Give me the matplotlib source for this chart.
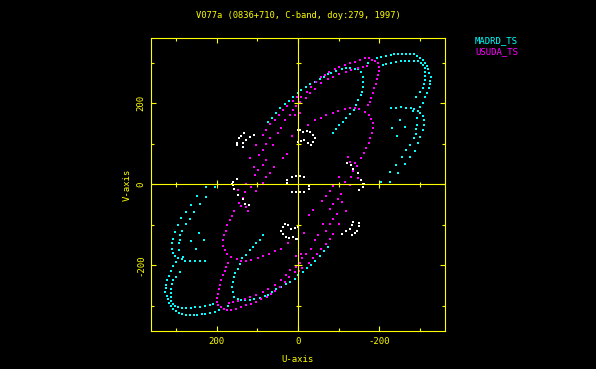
import numpy as np
import matplotlib
matplotlib.use('Agg')
import matplotlib.pyplot as plt

plt.rcParams['axes.unicode_minus'] = False
plt.rcParams['font.family'] = 'DejaVu Sans Mono'

title = 'V077a (0836+710, C-band, doy:279, 1997)'
stations = ['MADRD_TS', 'USUDA_TS']
tick_vals = [200, 0, -200]
minor_vals = [-300, -100, 100, 300]

##### u,v samples (upper half only, conjugates drawn as -u,-v)
madrd_uv = [
    # track through the centre
    (74, 155), (65, 165), (53, 177), (43, 188), (33, 198), (22, 206), (12, 216), (1, 225),
    (-8, 233), (-19, 240), (-29, 247), (-41, 253), (-53, 259), (-63, 266), (-74, 272),
    (-82, 276), (-94, 280), (-107, 284), (-119, 286), (-129, 286), (-139, 285), (-147, 284),
    (-156, 278), (-160, 266), (-161, 253), (-160, 241), (-158, 229), (-154, 220), (-147, 208),
    (-143, 196), (-137, 183), (-127, 174), (-119, 163), (-110, 154), (-102, 146), (-94, 137),
    (-86, 126),
    # outer arc
    (-172, 300), (-183, 307), (-194, 311), (-205, 315), (-217, 318), (-228, 320), (-237, 321),
    (-247, 322), (-256, 322), (-266, 322), (-276, 322), (-285, 321), (-293, 318), (-300, 313),
    (-307, 307), (-313, 300), (-316, 292), (-319, 284), (-323, 276), (-326, 266), (-325, 256),
    (-325, 248), (-321, 237), (-318, 226), (-313, 215), (-307, 202), (-300, 191),
    # second arc
    (-209, 295), (-217, 297), (-229, 300), (-241, 302), (-252, 304), (-262, 305), (-274, 305),
    (-286, 305), (-294, 304), (-303, 300), (-308, 295), (-313, 288), (-313, 278), (-313, 268),
    (-311, 258), (-309, 247), (-307, 237), (-299, 229), (-291, 216),
    # inner arcs on the right
    (-229, 188), (-241, 189), (-254, 190), (-266, 189), (-278, 188), (-286, 185), (-294, 182),
    (-301, 177), (-307, 169), (-309, 159), (-309, 146), (-307, 134), (-301, 118), (-294, 101),
    (-282, 180), (-292, 163), (-293, 146), (-291, 137), (-289, 124), (-286, 114), (-276, 98),
    (-266, 85), (-287, 82), (-255, 68), (-276, 68), (-262, 50), (-240, 49), (-247, 29),
    (-225, 30), (-225, 6), (-203, 6), (-251, 160), (-264, 141), (-231, 138), (-243, 119),
]

usuda_uv = [
    # outer arc
    (-8, 216), (-21, 229), (-33, 241), (-45, 253), (-57, 264), (-66, 270), (-76, 277),
    (-90, 284), (-102, 290), (-115, 295), (-127, 299), (-139, 303), (-153, 307), (-164, 311),
    (-174, 311), (-182, 308), (-190, 304), (-196, 299), (-199, 290), (-199, 280), (-196, 270),
    (-194, 259), (-191, 248), (-188, 237), (-184, 225), (-180, 214), (-176, 204), (-171, 195),
    # second row
    (6, 193), (-6, 203), (-19, 212), (-29, 225), (-41, 235), (-57, 249), (-74, 259), (-86, 266),
    (-102, 272), (-119, 277), (-131, 282), (-147, 287), (-159, 290), (-169, 292),
    # near the origin
    (2, 215), (11, 206), (27, 193), (11, 183), (37, 183), (47, 171), (20, 171), (57, 160),
    (31, 160), (68, 148), (41, 138), (78, 134), (49, 126), (14, 119), (86, 122), (69, 114),
    (79, 99), (102, 97), (61, 97), (87, 86), (96, 72), (117, 66), (28, 75), (38, 64), (78, 60),
    (60, 42), (109, 43), (86, 48), (69, 29), (98, 35), (79, 17), (106, 23), (87, 4), (127, 1),
    # inner arc
    (8, 171), (-4, 177), (-25, 146), (-41, 159), (-57, 165), (-70, 171), (-86, 177), (-98, 182),
    (-115, 187), (-127, 189), (-139, 189), (-151, 185), (-164, 179), (-174, 171), (-180, 161),
    (-184, 151), (-184, 138), (-182, 126), (-178, 114), (-174, 101), (-168, 89), (-162, 77),
    (-156, 65),
    (-123, 67), (-127, 56), (-139, 53), (-135, 34), (-147, 15), (-131, 19), (-115, 6),
    (-102, 17), (-144, 45),
]

ground_uv = [
    (133, 126), (141, 120), (146, 115), (150, 103), (149, 96), (136, 93), (134, 101),
    (128, 109), (119, 116), (108, 122),
    (151, 13), (160, 6), (163, 0),
    (0, 134), (-4, 134), (-12, 130), (-21, 132), (-29, 130), (-37, 122), (-41, 114),
    (-37, 105), (-33, 97), (-25, 101), (-16, 109), (-8, 108), (0, 105),
    (4, 20), (14, 19), (26, 11), (28, 4), (-4, 20), (-14, 19),
    (-121, 52), (-131, 48), (-135, 37), (-147, 27), (-156, 11), (-160, 2),
]

yellow = '#ffff00'
cols = ['#00ffff', '#ff00ff', '#ffffff']

fig = plt.figure(figsize=(5.96, 3.69), dpi=100, facecolor='black')
ax = fig.add_axes([0.2528, 0.1030, 0.4943, 0.7948], facecolor='black')

for uv, c in zip([madrd_uv, usuda_uv, ground_uv], cols):
    uv = np.array(uv, dtype=float)
    ax.plot(uv[:, 0], uv[:, 1], 's', color=c, ms=1.5, mew=0)
    ax.plot(-uv[:, 0], -uv[:, 1], 's', color=c, ms=1.5, mew=0)

ax.set_xlim(362, -362)
ax.set_ylim(-362, 362)

# zero axes with their own ticks
ax.axhline(0, color=yellow, lw=0.8)
ax.axvline(0, color=yellow, lw=0.8)
t_major = [v for v in tick_vals if v != 0]
ax.plot(t_major, np.zeros(len(t_major)), '|', color=yellow, ms=5.8, mew=0.8)
ax.plot(minor_vals, np.zeros(len(minor_vals)), '|', color=yellow, ms=3.6, mew=0.8)
ax.plot(np.zeros(len(t_major)), t_major, '_', color=yellow, ms=5.8, mew=0.8)
ax.plot(np.zeros(len(minor_vals)), minor_vals, '_', color=yellow, ms=3.6, mew=0.8)

for s in ax.spines.values():
    s.set_color(yellow)
    s.set_linewidth(0.8)

ax.set_xticks(tick_vals)
ax.set_yticks(tick_vals)
ax.set_xticks(minor_vals, minor=True)
ax.set_yticks(minor_vals, minor=True)
ax.set_xticklabels([str(v) for v in tick_vals])
ax.set_yticklabels([str(v) for v in tick_vals])
ax.tick_params(which='both', direction='in', top=True, right=True, color=yellow,
               width=0.8, labelcolor=yellow, labelsize=6.5, pad=4)
ax.tick_params(which='major', length=3.6)
ax.tick_params(which='minor', length=2.2)
for lbl in ax.get_yticklabels():
    lbl.set_rotation(90)
    lbl.set_va('center')

fig.text(298 / 596, 1 - 16 / 369, title, color=yellow, fontsize=6.3, ha='center', va='center')
fig.text(298 / 596, 1 - 359 / 369, 'U-axis', color=yellow, fontsize=6.5, ha='center', va='center')
fig.text(127.7 / 596, 1 - 184.5 / 369, 'V-axis', color=yellow, fontsize=6.5, ha='center',
         va='center', rotation=90)
fig.text(475 / 596, 1 - 41 / 369, stations[0], color=cols[0], fontsize=6.5, ha='left', va='center')
fig.text(475 / 596, 1 - 52 / 369, stations[1], color=cols[1], fontsize=6.5, ha='left', va='center')

fig.savefig('out.png', dpi=100, facecolor='black')
